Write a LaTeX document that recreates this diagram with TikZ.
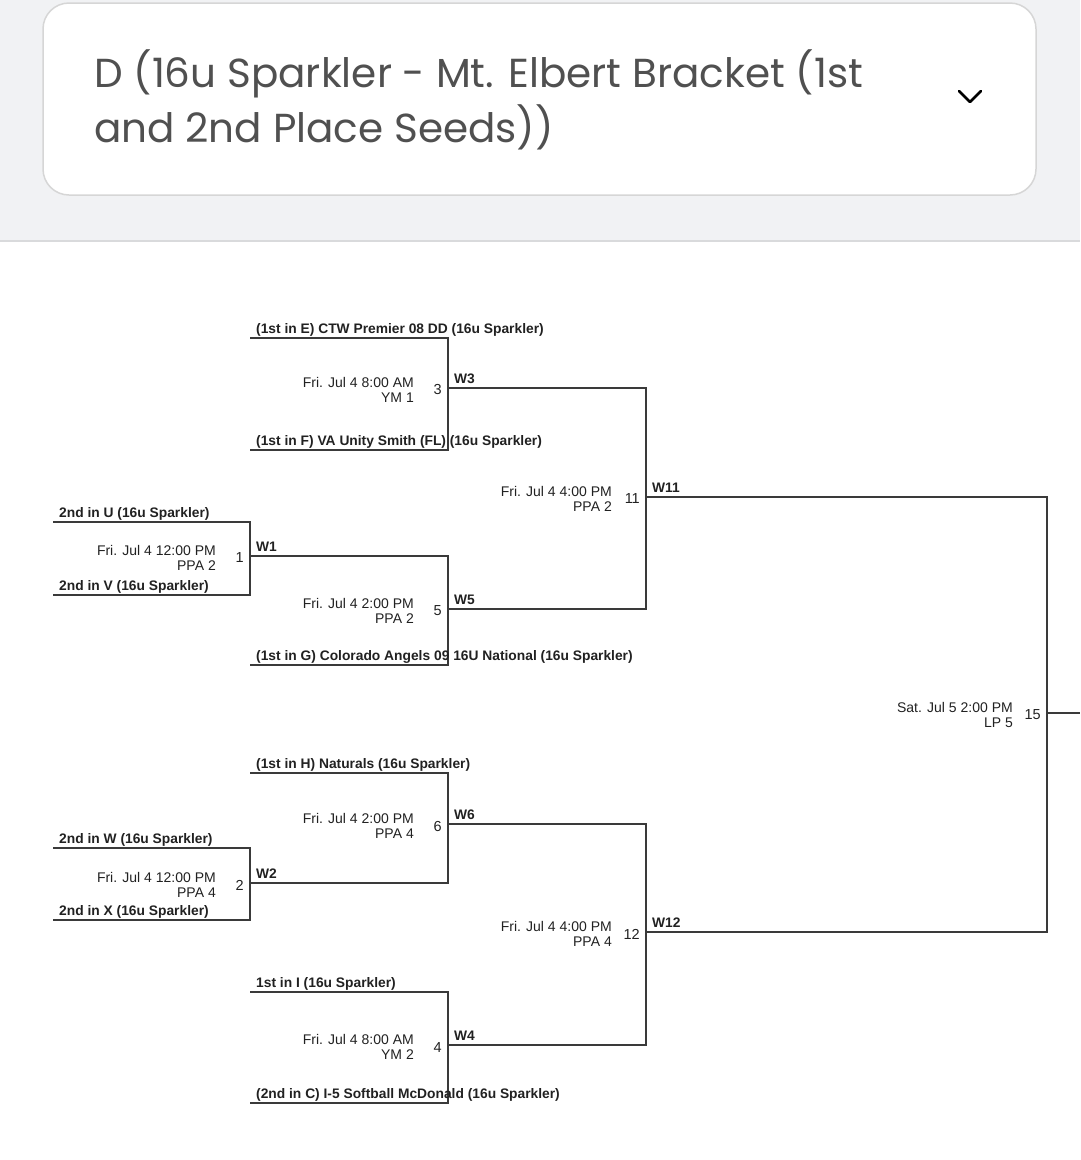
\documentclass[tikz,border=0pt]{standalone}
\usepackage{fontspec}
\setmainfont{Liberation Sans}
\newfontfamily\titlefont{Poppins}
\definecolor{bggray}{HTML}{F1F2F4}
\definecolor{sepgray}{HTML}{D9DADC}
\definecolor{boxgray}{HTML}{D6D6D6}
\definecolor{titlegray}{HTML}{505050}
\definecolor{linegray}{HTML}{3A3A3A}
\definecolor{textdark}{HTML}{212121}
\begin{document}
\begin{tikzpicture}[x=1pt,y=-1pt,
	bline/.style={draw=linegray,line width=1.2pt},
	team/.style={anchor=base west,inner sep=0pt,xshift=6pt,yshift=4.5pt,
		text=textdark,font=\bfseries\fontsize{13.8}{15}\selectfont},
	gnum/.style={anchor=east,inner sep=0pt,xshift=-6pt,yshift=-2pt,
		text=textdark,font=\fontsize{14.5}{15}\selectfont},
	gdate/.style={anchor=east,align=right,inner sep=0pt,xshift=-34pt,yshift=-1.5pt,
		text=textdark,font=\fontsize{14}{15}\selectfont},
	headline/.style={anchor=base west,inner sep=0pt,text=titlegray,
		font=\titlefont\fontsize{40.5}{48}\selectfont}]
	\useasboundingbox (0,0) rectangle (1080,1160);
	% header
	\fill[bggray] (0,0) rectangle (1080,241);
	\draw[sepgray,line width=2] (0,241) -- (1080,241);
	\draw[boxgray,fill=white,line width=1.5,rounded corners=26] (43,3) rectangle (1036,195);
	\node[headline] (title1) at (94,87) {D (16u Sparkler - Mt. Elbert Bracket (1st};
	\node[headline] (title2) at (94,142) {and 2nd Place Seeds))};
	\coordinate (chevA) at (959,91);
	\coordinate (chevB) at (970,102);
	\coordinate (chevC) at (981,91);
	\draw[line width=2.6,line cap=round,line join=round] (chevA) -- (chevB) -- (chevC);
	% slots
	\coordinate (sU) at (53,522);
	\coordinate (sV) at (53,595);
	\coordinate (sW) at (53,848);
	\coordinate (sX) at (53,920);
	\coordinate (sE) at (250,338);
	\coordinate (sF) at (250,450);
	\coordinate (sG) at (250,665);
	\coordinate (sH) at (250,773);
	\coordinate (sI) at (250,992);
	\coordinate (sC) at (250,1103);
	% games
	\coordinate (g1) at (250,556);
	\coordinate (g2) at (250,883);
	\coordinate (g3) at (448,388);
	\coordinate (g5) at (448,609);
	\coordinate (g6) at (448,824);
	\coordinate (g4) at (448,1045);
	\coordinate (g11) at (646,497);
	\coordinate (g12) at (646,932);
	\coordinate (g15) at (1047,713);
	\coordinate (out) at (1080,713);
	% bracket lines
	\draw[bline] (sU) -| (g1) |- (sV);
	\draw[bline] (sW) -| (g2) |- (sX);
	\draw[bline] (sE) -| (g3) |- (sF);
	\draw[bline] (g1) -| (g5) |- (sG);
	\draw[bline] (sH) -| (g6) |- (g2);
	\draw[bline] (sI) -| (g4) |- (sC);
	\draw[bline] (g3) -| (g11) |- (g5);
	\draw[bline] (g6) -| (g12) |- (g4);
	\draw[bline] (g11) -| (g15) |- (g12);
	\draw[bline] (g15) -- (out);
	% teams
	\node[team] (tU) at (sU) {2nd in U (16u Sparkler)};
	\node[team] (tV) at (sV) {2nd in V (16u Sparkler)};
	\node[team] (tW) at (sW) {2nd in W (16u Sparkler)};
	\node[team] (tX) at (sX) {2nd in X (16u Sparkler)};
	\node[team] (tE) at (sE) {(1st in E) CTW Premier 08 DD (16u Sparkler)};
	\node[team] (tF) at (sF) {(1st in F) VA Unity Smith (FL) (16u Sparkler)};
	\node[team] (tG) at (sG) {(1st in G) Colorado Angels 09 16U National (16u Sparkler)};
	\node[team] (tH) at (sH) {(1st in H) Naturals (16u Sparkler)};
	\node[team] (tI) at (sI) {1st in I (16u Sparkler)};
	\node[team] (tC) at (sC) {(2nd in C) I-5 Softball McDonald (16u Sparkler)};
	% winners
	\node[team] (w1) at (g1) {W1};
	\node[team] (w2) at (g2) {W2};
	\node[team] (w3) at (g3) {W3};
	\node[team] (w5) at (g5) {W5};
	\node[team] (w6) at (g6) {W6};
	\node[team] (w4) at (g4) {W4};
	\node[team] (w11) at (g11) {W11};
	\node[team] (w12) at (g12) {W12};
	% game numbers and times
	\node[gnum] (n1) at (g1) {1};
	\node[gnum] (n2) at (g2) {2};
	\node[gnum] (n3) at (g3) {3};
	\node[gnum] (n5) at (g5) {5};
	\node[gnum] (n6) at (g6) {6};
	\node[gnum] (n4) at (g4) {4};
	\node[gnum] (n11) at (g11) {11};
	\node[gnum] (n12) at (g12) {12};
	\node[gnum] (n15) at (g15) {15};
	\node[gdate] (d1) at (g1) {Fri. Jul 4 12:00 PM\\PPA 2};
	\node[gdate] (d2) at (g2) {Fri. Jul 4 12:00 PM\\PPA 4};
	\node[gdate] (d3) at (g3) {Fri. Jul 4 8:00 AM\\YM 1};
	\node[gdate] (d5) at (g5) {Fri. Jul 4 2:00 PM\\PPA 2};
	\node[gdate] (d6) at (g6) {Fri. Jul 4 2:00 PM\\PPA 4};
	\node[gdate] (d4) at (g4) {Fri. Jul 4 8:00 AM\\YM 2};
	\node[gdate] (d11) at (g11) {Fri. Jul 4 4:00 PM\\PPA 2};
	\node[gdate] (d12) at (g12) {Fri. Jul 4 4:00 PM\\PPA 4};
	\node[gdate] (d15) at (g15) {Sat. Jul 5 2:00 PM\\LP 5};
\end{tikzpicture}
\end{document}
